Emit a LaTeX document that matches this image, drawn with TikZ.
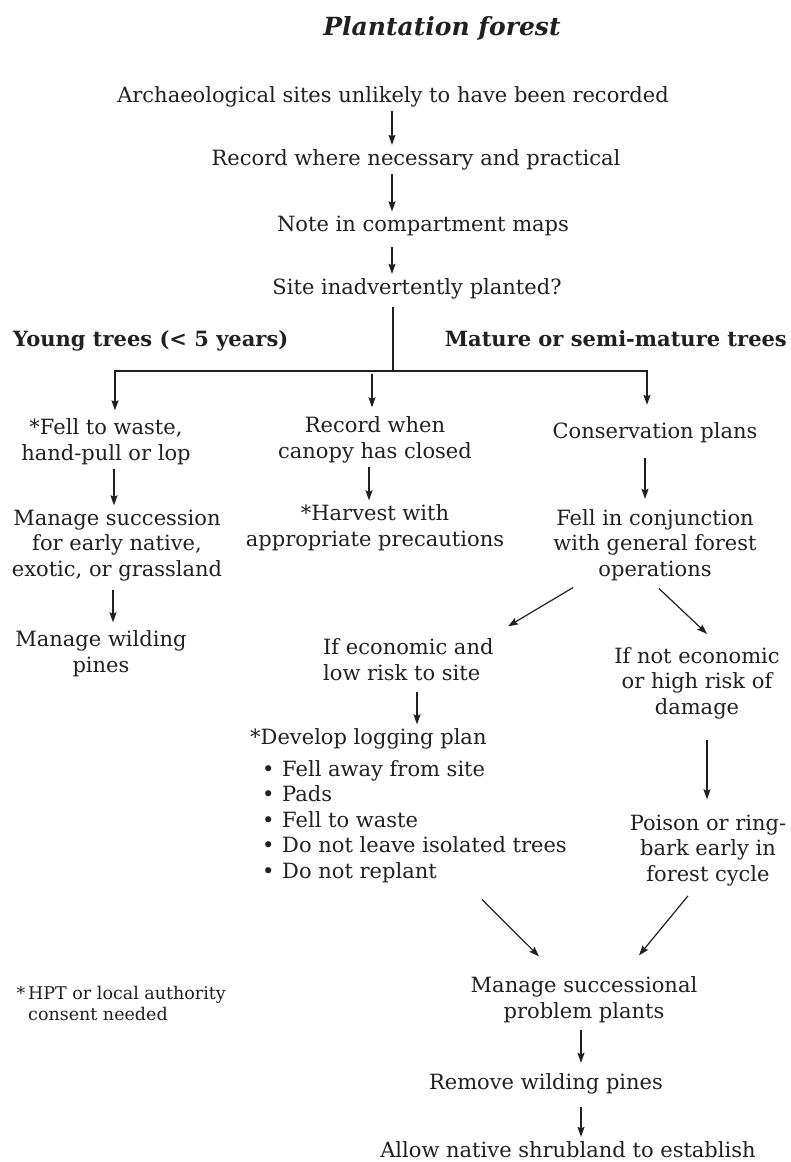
\documentclass[tikz,border=0pt]{standalone}
\usepackage{fontspec}
\setmainfont{DejaVu Serif}
\usetikzlibrary{arrows.meta}
\definecolor{ink}{HTML}{231F20}
\begin{document}
\begin{tikzpicture}[x=1pt,y=-1pt,
  txt/.style={font=\fontsize{21}{25.5}\selectfont, text=ink, inner xsep=0pt, inner ysep=4pt, anchor=base, align=center},
  hdr/.style={txt, font=\fontsize{21}{25.5}\selectfont\bfseries},
  foot/.style={font=\fontsize{17.5}{21}\selectfont, text=ink, inner sep=0pt, anchor=base west, align=left},
  ln/.style={draw=ink, line width=1.2pt},
  arr/.style={ln, -{Stealth[length=10pt,width=7pt,inset=1.5pt]}}
]
\useasboundingbox (0,0) rectangle (790,1162);

% ---- nodes (multi-line nodes are placed at the baseline of their last line) ----
\node[txt] (title) at (442,35) {\fontsize{25}{28}\selectfont\bfseries\itshape Plantation forest};
\node[txt] (n1) at (393,102) {Archaeological sites unlikely to have been recorded};
\node[txt] (n2) at (416,165) {Record where necessary and practical};
\node[txt] (n3) at (423,231) {Note in compartment maps};
\node[txt] (n4) at (417,294) {Site inadvertently planted?};
\node[hdr, anchor=base west] (young) at (13,346) {Young trees (< 5 years)};
\node[hdr, anchor=base east] (mature) at (787,346) {Mature or semi-mature trees};
\node[txt] (r1a) at (106,460) {*Fell to waste,\\hand-pull or lop};
\node[txt] (r1b) at (375,458) {Record when\\canopy has closed};
\node[txt] (r1c) at (655,438) {Conservation plans};
\node[txt] (r2a) at (117,576) {Manage succession\\for early native,\\exotic, or grassland};
\node[txt] (r2b) at (375,546) {*Harvest with\\appropriate precautions};
\node[txt] (r2c) at (655,576) {Fell in conjunction\\with general forest\\operations};
\node[txt] (r3a) at (101,672) {Manage wilding\\pines};
\node[txt, anchor=base west, align=left] (econ) at (323,680) {If economic and\\low risk to site};
\node[txt] (nonecon) at (697,714) {If not economic\\or high risk of\\damage};
\node[txt, anchor=base west, align=left] (devel) at (250,878) {*Develop logging plan\\[6pt]
  \hspace*{12pt}\makebox[20pt][l]{•}Fell away from site\\
  \hspace*{12pt}\makebox[20pt][l]{•}Pads\\
  \hspace*{12pt}\makebox[20pt][l]{•}Fell to waste\\
  \hspace*{12pt}\makebox[20pt][l]{•}Do not leave isolated trees\\
  \hspace*{12pt}\makebox[20pt][l]{•}Do not replant};
\node[txt] (poison) at (708,881) {Poison or ring-\\bark early in\\forest cycle};
\node[txt] (ms) at (584,1018) {Manage successional\\problem plants};
\node[foot] (foot) at (28,1020) {\llap{*\,}HPT or local authority\\consent needed};
\node[txt] (remove) at (546,1089) {Remove wilding pines};
\node[txt] (allow) at (568,1157) {Allow native shrubland to establish};

% ---- column coordinates ----
\coordinate (cA) at (392,0);
\coordinate (hub) at (393,371);
\coordinate (hl) at (115,371);
\coordinate (hr) at (647,371);
\coordinate (hm) at (372,374);
\coordinate (cL) at (114,0);
\coordinate (cM) at (369,0);
\coordinate (cR) at (645,0);
\coordinate (cL2) at (113,0);
\coordinate (dA) at (573,0);
\coordinate (dB) at (508,0);
\coordinate (dC) at (659,0);
\coordinate (dD) at (707,0);
\coordinate (cE) at (417,0);
\coordinate (cN) at (707,0);
\coordinate (eA) at (482,0);
\coordinate (eB) at (539,0);
\coordinate (eC) at (688,0);
\coordinate (eD) at (639,0);
\coordinate (cB) at (581,0);

% ---- connectors ----
\draw[arr] (n1.south -| cA) -- (n2.north -| cA);
\draw[arr] (n2.south -| cA) -- (n3.north -| cA);
\draw[arr] ([shift={(0,7)}]n3.south -| cA) -- (n4.north -| cA);
\draw[ln] ([shift={(0,4)}]n4.south -| hub) -- (hub);
\draw[arr, line join=miter] (hub) -- (hl) -- ([shift={(0,-4)}]r1a.north -| hl);
\draw[arr, line join=miter] (hub) -- (hr) -- ([shift={(0,-13)}]r1c.north -| hr);
\draw[arr] (hm) -- ([shift={(0,-5)}]r1b.north -| hm);

\draw[arr] (r1a.south -| cL) -- (r2a.north -| cL);
\draw[arr] (r1b.south -| cM) -- (r2b.north -| cM);
\draw[arr] ([shift={(0,11)}]r1c.south -| cR) -- ([shift={(0,-6)}]r2c.north -| cR);
\draw[arr] ([shift={(0,5)}]r2a.south -| cL2) -- ([shift={(0,-4)}]r3a.north -| cL2);

\draw[arr] ([shift={(0,3)}]r2c.south -| dA) -- ([shift={(0,-8)}]econ.north -| dB);
\draw[arr] ([shift={(0,4)}]r2c.south -| dC) -- ([shift={(0,-9)}]nonecon.north -| dD);
\draw[arr] ([shift={(0,7)}]econ.south -| cE) -- (devel.north -| cE);
\draw[arr] ([shift={(0,17)}]nonecon.south -| cN) -- ([shift={(0,-11)}]poison.north -| cN);
\draw[arr] ([shift={(0,13)}]devel.south -| eA) -- ([shift={(0,-16)}]ms.north -| eB);
\draw[arr] ([shift={(0,6)}]poison.south -| eC) -- ([shift={(0,-17)}]ms.north -| eD);
\draw[arr] ([shift={(0,3)}]ms.south -| cB) -- ([shift={(0,-6)}]remove.north -| cB);
\draw[arr] ([shift={(0,9)}]remove.south -| cB) -- (allow.north -| cB);
\end{tikzpicture}
\end{document}
